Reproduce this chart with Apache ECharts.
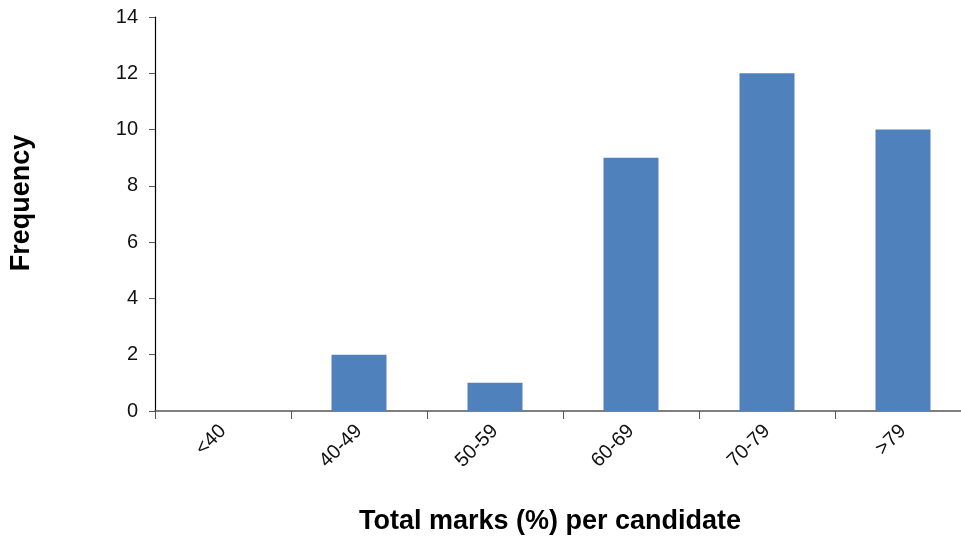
<!DOCTYPE html>
<html>
<head>
    <meta charset="UTF-8">
    <title>Total marks per candidate</title>
    <script src="https://cdn.jsdelivr.net/npm/echarts@6/dist/echarts.min.js"></script>
    <style>
        html, body { margin: 0; padding: 0; background: #fff; overflow: hidden; }
    </style>
</head>
<body>
    <!-- the plot runs past the right edge in the original, so the canvas is a bit wider than the window -->
    <div id="chart" style="width: 971px; height: 540px;"></div>

    <script>
        // data
        const categories = ['<40', '40-49', '50-59', '60-69', '70-79', '>79'];
        const frequency = [0, 2, 1, 9, 12, 10];
        const yTicks = [0, 2, 4, 6, 8, 10, 12, 14];

        const chart = echarts.init(document.getElementById('chart'));

        const option = {
            animation: false,
            grid: {
                left: 155,
                right: 0,
                top: 17,
                bottom: 129,
                containLabel: false
            },
            xAxis: {
                type: 'category',
                data: categories,
                boundaryGap: true,
                axisLine: { lineStyle: { color: '#555', width: 1.5 } },
                axisTick: { show: true, length: 8, lineStyle: { color: '#555' } },
                axisLabel: {
                    rotate: 45,
                    margin: 17,
                    color: '#111',
                    fontFamily: 'Liberation Sans, Arial',
                    fontSize: 20
                }
            },
            yAxis: {
                type: 'value',
                min: yTicks[0],
                max: yTicks[yTicks.length - 1],
                interval: 2,
                splitLine: { show: false },
                axisLine: { show: true, lineStyle: { color: '#000', width: 1.2 } },
                axisTick: { show: true, length: 6, lineStyle: { color: '#555' } },
                axisLabel: {
                    margin: 17,
                    color: '#111',
                    fontFamily: 'Liberation Sans, Arial',
                    fontSize: 20
                }
            },
            graphic: [
                {
                    type: 'text',
                    rotation: Math.PI / 2,
                    x: 22, y: 203,
                    style: {
                        text: 'Frequency',
                        x: 0, y: 0,
                        align: 'center',
                        verticalAlign: 'middle',
                        font: 'bold 27px "Liberation Sans", Arial',
                        fill: '#000'
                    }
                },
                {
                    type: 'text',
                    x: 550, y: 522,
                    style: {
                        text: 'Total marks (%) per candidate',
                        x: 0, y: 0,
                        align: 'center',
                        verticalAlign: 'middle',
                        font: 'bold 27px "Liberation Sans", Arial',
                        fill: '#000'
                    }
                }
            ],
            series: [{
                type: 'bar',
                data: frequency,
                barWidth: 55,
                itemStyle: {
                    color: '#4F81BD'
                }
            }]
        };

        chart.setOption(option);
    </script>
</body>
</html>
